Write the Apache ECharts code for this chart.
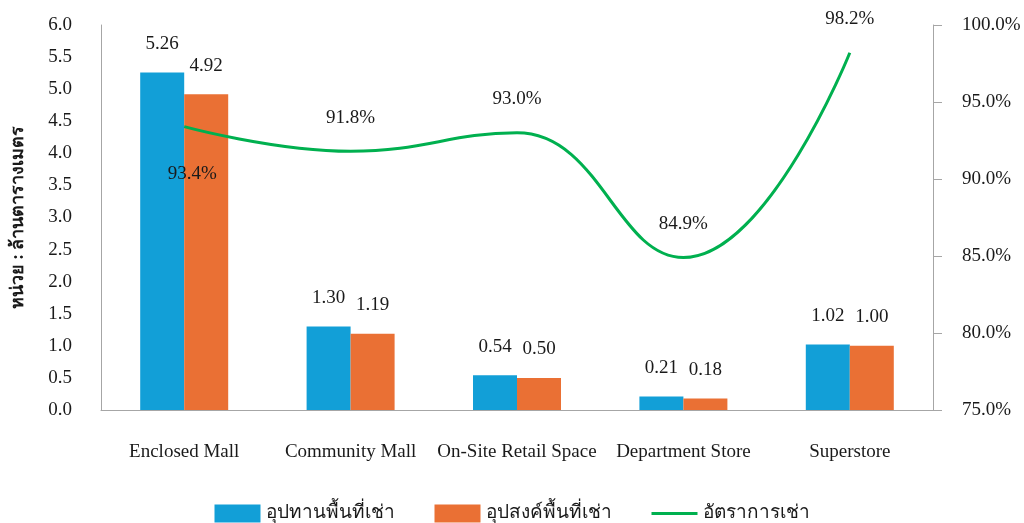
<!DOCTYPE html>
<html>
<head>
<meta charset="utf-8">
<script src="https://cdn.jsdelivr.net/npm/echarts@6/dist/echarts.min.js"></script>
<style>html,body{margin:0;padding:0;background:#fff}#c{width:1024px;height:523px}</style>
</head>
<body>
<div id="c"></div>
<script>
const categories = ['Enclosed Mall', 'Community Mall', 'On-Site Retail Space', 'Department Store', 'Superstore'];
const supply = [5.26, 1.30, 0.54, 0.21, 1.02];
const demand = [4.92, 1.19, 0.50, 0.18, 1.00];
const occupancy = [93.4, 91.8, 93.0, 84.9, 98.2];
const seriesNames = ['อุปทานพื้นที่เช่า', 'อุปสงค์พื้นที่เช่า', 'อัตราการเช่า'];
const yAxisTitle = 'หน่วย : ล้านตารางเมตร';

const FONT = '"Liberation Serif", "Times New Roman", serif';
const TXT = '#1a1a1a';
const AX = '#a6a6a6';
const FS = 19;

const chart = echarts.init(document.getElementById('c'));
chart.setOption({
  animation: false,
  backgroundColor: '#fff',
  textStyle: { fontFamily: FONT, color: TXT },
  grid: { left: 101, right: 91, top: 25, bottom: 113, outerBoundsMode: 'none' },
  legend: {
    top: 499,
    left: 'center',
    itemWidth: 46,
    itemHeight: 18,
    itemGap: 40,
    textStyle: { fontFamily: FONT, fontSize: 19, color: TXT },
    data: [
      { name: seriesNames[0], icon: 'rect' },
      { name: seriesNames[1], icon: 'rect' },
      { name: seriesNames[2], icon: 'path://M0,0H46V3H0Z' }
    ]
  },
  xAxis: {
    type: 'category',
    data: categories,
    axisLine: { lineStyle: { color: AX } },
    axisTick: { show: false },
    axisLabel: { interval: 0, fontFamily: FONT, fontSize: FS, color: TXT, margin: 33 }
  },
  yAxis: [{
    type: 'value', min: 0, max: 6, interval: 0.5,
    name: yAxisTitle, nameLocation: 'middle', nameGap: 74,
    nameTextStyle: { fontFamily: FONT, fontSize: 18, fontWeight: 'bold', color: TXT },
    axisLine: { show: true, lineStyle: { color: AX } },
    axisTick: { show: false },
    splitLine: { show: false },
    axisLabel: { fontFamily: FONT, fontSize: FS, color: TXT, margin: 29, formatter: v => v.toFixed(1) }
  }, {
    type: 'value', min: 75, max: 100, interval: 5, position: 'right',
    axisLine: { show: true, lineStyle: { color: AX } },
    axisTick: { show: true, length: 9, lineStyle: { color: AX } },
    splitLine: { show: false },
    axisLabel: { fontFamily: FONT, fontSize: FS, color: TXT, margin: 29, formatter: v => v.toFixed(1) + '%' }
  }],
  series: [{
    name: seriesNames[0], type: 'bar', data: supply,
    barWidth: 44, barGap: '0%',
    itemStyle: { color: '#129fd7' },
    label: { show: true, position: 'top', distance: 19, fontFamily: FONT, fontSize: FS, color: TXT, formatter: p => p.value.toFixed(2) }
  }, {
    name: seriesNames[1], type: 'bar', data: demand,
    barWidth: 44,
    itemStyle: { color: '#ea7034' },
    label: { show: true, position: 'top', distance: 19, fontFamily: FONT, fontSize: FS, color: TXT, formatter: p => p.value.toFixed(2) }
  }, {
    name: seriesNames[2], type: 'line', yAxisIndex: 1,
    data: occupancy.map((v, i) => i === 0
      ? { value: v, label: { position: 'bottom', distance: 38, offset: [8, 0] } }
      : { value: v }),
    smooth: 0.45,
    symbol: 'circle', symbolSize: 0,
    lineStyle: { color: '#00b04f', width: 3 },
    itemStyle: { color: '#00b04f' },
    label: { show: true, position: 'top', distance: 24, fontFamily: FONT, fontSize: FS, color: TXT, formatter: p => p.value.toFixed(1) + '%' },
    z: 5
  }]
});
</script>
</body>
</html>
